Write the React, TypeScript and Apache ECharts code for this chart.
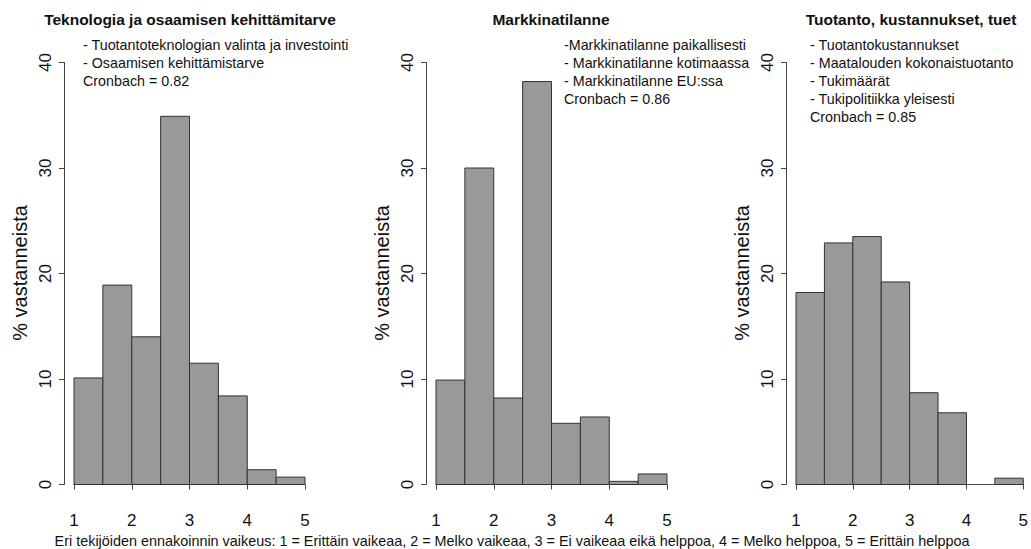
import React, { useEffect, useRef } from "react";
import * as echarts from "echarts";

// Histogram bins (response scale 1..5, bin width 0.5)
const binStarts = [1, 1.5, 2, 2.5, 3, 3.5, 4, 4.5];
const binWidth = 0.5;

// % of respondents per bin
const teknologia = [10.1, 18.9, 14.0, 34.9, 11.5, 8.4, 1.4, 0.7];
const markkina = [9.9, 30.0, 8.2, 38.2, 5.8, 6.4, 0.3, 1.0];
const tuotanto = [18.2, 22.9, 23.5, 19.2, 8.7, 6.8, 0, 0.6];

const panelTitles = [
  "Teknologia ja osaamisen kehittämitarve",
  "Markkinatilanne",
  "Tuotanto, kustannukset, tuet",
];
const panelNotes = [
  ["- Tuotantoteknologian valinta ja investointi", "- Osaamisen kehittämistarve", "Cronbach = 0.82"],
  ["-Markkinatilanne paikallisesti", "- Markkinatilanne kotimaassa", "- Markkinatilanne EU:ssa", "Cronbach = 0.86"],
  ["- Tuotantokustannukset", "- Maatalouden kokonaistuotanto", "- Tukimäärät", "- Tukipolitiikka yleisesti", "Cronbach = 0.85"],
];
const yAxisLabel = "% vastanneista";
const xAxisCaption =
  "Eri tekijöiden ennakoinnin vaikeus: 1 = Erittäin vaikeaa, 2 = Melko vaikeaa, 3 = Ei vaikeaa eikä helppoa, 4 = Melko helppoa, 5 = Erittäin helppoa";
const yTicks = { min: 0, max: 40, interval: 10 };
const xTicks = { min: 1, max: 5, interval: 1 };

const seriesValues = [teknologia, markkina, tuotanto];

export default function App() {
  const ref = useRef<HTMLDivElement>(null);
  useEffect(() => {
    if (!ref.current) return;
    const chart = echarts.init(ref.current, undefined, { renderer: "svg" });
    const font = "Liberation Sans, Arial, sans-serif";
    const lefts = [74, 436, 796];
    const gridW = 231;
    const top = 62.5;
    const height = 422;
    const noteX = [83, 564, 810];
    const titleX = [190, 551, 911];
    const ylabX = [20, 382, 742];

    const grids = lefts.map((l) => ({ left: l, top, width: gridW, height }));
    const xAxes = lefts.map((_, i) => ({
      type: "value",
      gridIndex: i,
      min: xTicks.min,
      max: xTicks.max,
      interval: xTicks.interval,
      offset: 18,
      axisLine: { show: true, lineStyle: { color: "#444", width: 1 } },
      axisTick: { show: true, length: 5, lineStyle: { color: "#444" } },
      splitLine: { show: false },
      axisLabel: { fontSize: 17, color: "#111", fontFamily: font, margin: 9 },
    }));
    const yAxes = lefts.map((_, i) => ({
      type: "value",
      gridIndex: i,
      min: yTicks.min,
      max: yTicks.max,
      interval: yTicks.interval,
      offset: 10,
      axisLine: { show: true, lineStyle: { color: "#444", width: 1 } },
      axisTick: { show: true, length: 5, lineStyle: { color: "#444" } },
      splitLine: { show: false },
      axisLabel: { fontSize: 17, color: "#111", fontFamily: font, rotate: 90, margin: 10 },
    }));
    const series = seriesValues.map((vals, i) => ({
      type: "custom",
      xAxisIndex: i,
      yAxisIndex: i,
      encode: { x: [0, 1], y: 2 },
      data: binStarts.map((s, j) => [s, s + binWidth, vals[j]]),
      renderItem: (params: any, api: any) => {
        const v = api.value(2);
        if (!v) return null;
        const p0 = api.coord([api.value(0), v]);
        const p1 = api.coord([api.value(1), 0]);
        return {
          type: "rect",
          shape: { x: p0[0], y: p0[1], width: p1[0] - p0[0], height: p1[1] - p0[1] },
          style: { fill: "#999999", stroke: "#333333", lineWidth: 1 },
        };
      },
    }));

    const graphics: any[] = [];
    panelTitles.forEach((t, i) => {
      graphics.push({
        type: "text",
        x: titleX[i],
        y: 19,
        style: {
          text: t,
          fontSize: 15.5,
          fontWeight: "bold",
          fontFamily: font,
          fill: "#111",
          align: "center",
          verticalAlign: "middle",
        },
      });
      graphics.push({
        type: "text",
        x: noteX[i],
        y: 36,
        style: {
          text: panelNotes[i].join("\n"),
          fontSize: 14.3,
          lineHeight: 17.9,
          fontFamily: font,
          fill: "#111",
          align: "left",
          verticalAlign: "top",
        },
      });
      graphics.push({
        type: "text",
        x: ylabX[i],
        y: 273,
        rotation: Math.PI / 2,
        style: {
          text: yAxisLabel,
          fontSize: 20,
          fontFamily: font,
          fill: "#111",
          align: "center",
          verticalAlign: "middle",
        },
      });
    });
    graphics.push({
      type: "text",
      x: 512,
      y: 541,
      style: {
        text: xAxisCaption,
        fontSize: 14.4,
        fontFamily: font,
        fill: "#111",
        align: "center",
        verticalAlign: "middle",
      },
    });

    chart.setOption({
      animation: false,
      backgroundColor: "#ffffff",
      grid: grids,
      xAxis: xAxes,
      yAxis: yAxes,
      series,
      graphic: graphics,
    });
    return () => chart.dispose();
  }, []);
  return (
    <div
      ref={ref}
      style={{ position: "fixed", left: 0, top: 0, width: 1031, height: 549 }}
    />
  );
}
